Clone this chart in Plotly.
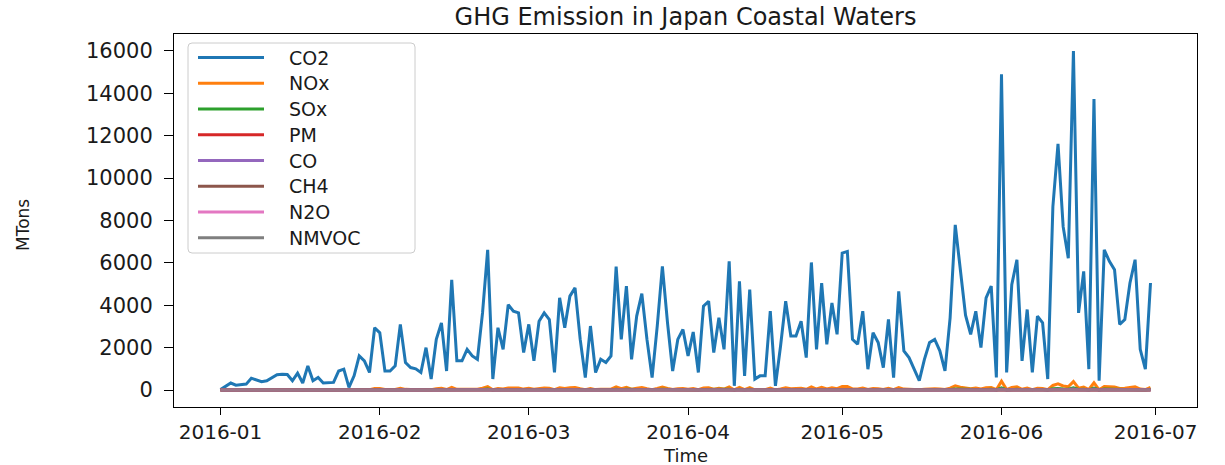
import pandas as pd
import plotly.graph_objects as go

# Daily emissions, 2016-01-01 .. 2016-06-30 (MTons)
start_date = "2016-01-01"
end_date = "2016-06-30"

co2 = [
    20, 170, 330, 230, 270, 280, 560, 480, 390, 440,
    580, 720, 750, 735, 440, 800, 330, 1140, 440, 590,
    330, 330, 360, 900, 985, 125, 670, 1610, 1380, 830,
    2940, 2700, 900, 900, 1140, 3100, 1300, 1060, 1000, 830,
    2000, 520, 2390, 3170, 900, 5200, 1380, 1380, 1920, 1610,
    1450, 3640, 6620, 520, 2940, 1920, 4030, 3720, 3640, 1770,
    3100, 1380, 3250, 3640, 3330, 830, 4350, 2940, 4430, 4820,
    2400, 590, 3020, 830, 1450, 1300, 1610, 5830, 2390, 4900,
    1450, 3490, 4550, 2390, 590, 3020, 5830, 3170, 900, 2390,
    2860, 1610, 2740, 830, 3960, 4190, 1770, 3410, 1920, 6070,
    200, 5130, 670, 4740, 520, 670, 670, 3720, 200, 2080,
    4190, 2550, 2550, 3250, 1530, 6020, 1920, 5040, 2160, 4110,
    2630, 6460, 6540, 2390, 2160, 3720, 985, 2700, 2240, 1060,
    3330, 590, 4660, 1850, 1530, 985, 440, 1450, 2240, 2390,
    1850, 900, 3410, 7790, 5520, 3530, 2630, 3720, 2000, 4350,
    4900, 590, 14900, 830, 4970, 6150, 1380, 3800, 830, 3490,
    3170, 520, 8650, 11620, 7710, 6220, 16000, 3640, 5600, 985,
    13730, 440, 6620, 6070, 5680, 3100, 3330, 5050, 6150, 1920,
    985, 5050,
]

nox = [
    1, 4, 8, 6, 7, 7, 14, 12, 10, 11,
    15, 18, 19, 18, 11, 20, 8, 28, 11, 15,
    8, 8, 9, 22, 25, 3, 17, 40, 35, 21,
    74, 68, 22, 22, 28, 78, 33, 27, 25, 21,
    50, 13, 60, 79, 22, 130, 35, 35, 48, 40,
    36, 91, 166, 13, 74, 48, 101, 93, 91, 44,
    78, 35, 81, 91, 83, 21, 109, 74, 111, 121,
    60, 15, 76, 21, 36, 33, 40, 146, 60, 123,
    36, 87, 114, 60, 15, 76, 146, 79, 22, 60,
    72, 40, 69, 21, 99, 105, 44, 85, 48, 152,
    5, 128, 17, 119, 13, 17, 17, 93, 5, 52,
    105, 64, 64, 81, 38, 151, 48, 126, 54, 103,
    66, 162, 164, 60, 54, 93, 25, 68, 56, 27,
    83, 15, 117, 46, 38, 25, 11, 36, 56, 60,
    46, 23, 85, 195, 138, 88, 66, 93, 50, 109,
    123, 15, 420, 21, 124, 154, 35, 95, 21, 87,
    79, 13, 216, 290, 193, 156, 400, 91, 140, 25,
    343, 11, 166, 152, 142, 78, 83, 126, 154, 48,
    25, 126,
]

sox = [
    0, 1, 2, 2, 2, 2, 4, 3, 3, 3,
    4, 5, 5, 5, 3, 5, 2, 8, 3, 4,
    2, 2, 2, 6, 7, 1, 4, 11, 9, 6,
    20, 18, 6, 6, 8, 21, 9, 7, 7, 6,
    13, 3, 16, 21, 6, 35, 9, 9, 13, 11,
    10, 24, 44, 3, 20, 13, 27, 25, 24, 12,
    21, 9, 22, 24, 22, 6, 29, 20, 30, 32,
    16, 4, 20, 6, 10, 9, 11, 39, 16, 33,
    10, 23, 30, 16, 4, 20, 39, 21, 6, 16,
    19, 11, 18, 6, 26, 28, 12, 23, 13, 40,
    1, 34, 4, 32, 3, 4, 4, 25, 1, 14,
    28, 17, 17, 22, 10, 40, 13, 34, 14, 27,
    18, 43, 44, 16, 14, 25, 7, 18, 15, 7,
    22, 4, 31, 12, 10, 7, 3, 10, 15, 16,
    12, 6, 23, 52, 37, 24, 18, 25, 13, 29,
    33, 4, 99, 6, 33, 41, 9, 25, 6, 23,
    21, 3, 58, 77, 51, 41, 106, 24, 37, 7,
    92, 3, 44, 40, 38, 21, 22, 34, 41, 13,
    7, 34,
]

pm = [
    0, 0, 0, 0, 0, 0, 1, 0, 0, 0,
    1, 1, 1, 1, 0, 1, 0, 1, 0, 1,
    0, 0, 0, 1, 1, 0, 1, 2, 1, 1,
    3, 3, 1, 1, 1, 3, 1, 1, 1, 1,
    2, 1, 2, 3, 1, 5, 1, 1, 2, 2,
    1, 4, 7, 1, 3, 2, 4, 4, 4, 2,
    3, 1, 3, 4, 3, 1, 4, 3, 4, 5,
    2, 1, 3, 1, 1, 1, 2, 6, 2, 5,
    1, 3, 5, 2, 1, 3, 6, 3, 1, 2,
    3, 2, 3, 1, 4, 4, 2, 3, 2, 6,
    0, 5, 1, 5, 1, 1, 1, 4, 0, 2,
    4, 3, 3, 3, 2, 6, 2, 5, 2, 4,
    3, 6, 7, 2, 2, 4, 1, 3, 2, 1,
    3, 1, 5, 2, 2, 1, 0, 1, 2, 2,
    2, 1, 3, 8, 6, 4, 3, 4, 2, 4,
    5, 1, 15, 1, 5, 6, 1, 4, 1, 3,
    3, 1, 9, 12, 8, 6, 16, 4, 6, 1,
    14, 0, 7, 6, 6, 3, 3, 5, 6, 2,
    1, 5,
]

co = [
    0, 1, 1, 1, 1, 1, 2, 2, 1, 1,
    2, 2, 3, 2, 1, 3, 1, 4, 1, 2,
    1, 1, 1, 3, 3, 0, 2, 5, 5, 3,
    10, 9, 3, 3, 4, 10, 4, 4, 3, 3,
    7, 2, 8, 11, 3, 17, 5, 5, 6, 5,
    5, 12, 22, 2, 10, 6, 13, 12, 12, 6,
    10, 5, 11, 12, 11, 3, 15, 10, 15, 16,
    8, 2, 10, 3, 5, 4, 5, 19, 8, 16,
    5, 12, 15, 8, 2, 10, 19, 11, 3, 8,
    10, 5, 9, 3, 13, 14, 6, 11, 6, 20,
    1, 17, 2, 16, 2, 2, 2, 12, 1, 7,
    14, 9, 9, 11, 5, 20, 6, 17, 7, 14,
    9, 22, 22, 8, 7, 12, 3, 9, 7, 4,
    11, 2, 16, 6, 5, 3, 1, 5, 7, 8,
    6, 3, 11, 26, 18, 12, 9, 12, 7, 15,
    16, 2, 50, 3, 17, 20, 5, 13, 3, 12,
    11, 2, 29, 39, 26, 21, 53, 12, 19, 3,
    46, 1, 22, 20, 19, 10, 11, 17, 20, 6,
    3, 17,
]

ch4 = [
    0, 0, 0, 0, 0, 0, 0, 0, 0, 0,
    0, 0, 0, 0, 0, 0, 0, 0, 0, 0,
    0, 0, 0, 0, 0, 0, 0, 0, 0, 0,
    1, 1, 0, 0, 0, 1, 0, 0, 0, 0,
    0, 0, 0, 1, 0, 1, 0, 0, 0, 0,
    0, 1, 1, 0, 1, 0, 1, 1, 1, 0,
    1, 0, 1, 1, 1, 0, 1, 1, 1, 1,
    0, 0, 1, 0, 0, 0, 0, 1, 0, 1,
    0, 1, 1, 0, 0, 1, 1, 1, 0, 0,
    1, 0, 1, 0, 1, 1, 0, 1, 0, 1,
    0, 1, 0, 1, 0, 0, 0, 1, 0, 0,
    1, 1, 1, 1, 0, 1, 0, 1, 0, 1,
    1, 1, 1, 0, 0, 1, 0, 1, 0, 0,
    1, 0, 1, 0, 0, 0, 0, 0, 0, 0,
    0, 0, 1, 2, 1, 1, 1, 1, 0, 1,
    1, 0, 3, 0, 1, 1, 0, 1, 0, 1,
    1, 0, 2, 2, 2, 1, 3, 1, 1, 0,
    3, 0, 1, 1, 1, 1, 1, 1, 1, 0,
    0, 1,
]

n2o = [
    0, 0, 0, 0, 0, 0, 0, 0, 0, 0,
    0, 0, 0, 0, 0, 0, 0, 0, 0, 0,
    0, 0, 0, 0, 0, 0, 0, 0, 0, 0,
    0, 0, 0, 0, 0, 0, 0, 0, 0, 0,
    0, 0, 0, 0, 0, 1, 0, 0, 0, 0,
    0, 0, 1, 0, 0, 0, 0, 0, 0, 0,
    0, 0, 0, 0, 0, 0, 0, 0, 0, 0,
    0, 0, 0, 0, 0, 0, 0, 1, 0, 0,
    0, 0, 0, 0, 0, 0, 1, 0, 0, 0,
    0, 0, 0, 0, 0, 0, 0, 0, 0, 1,
    0, 1, 0, 0, 0, 0, 0, 0, 0, 0,
    0, 0, 0, 0, 0, 1, 0, 1, 0, 0,
    0, 1, 1, 0, 0, 0, 0, 0, 0, 0,
    0, 0, 0, 0, 0, 0, 0, 0, 0, 0,
    0, 0, 0, 1, 1, 0, 0, 0, 0, 0,
    0, 0, 1, 0, 0, 1, 0, 0, 0, 0,
    0, 0, 1, 1, 1, 1, 2, 0, 1, 0,
    1, 0, 1, 1, 1, 0, 0, 0, 1, 0,
    0, 0,
]

nmvoc = [
    0, 0, 0, 0, 0, 0, 1, 1, 1, 1,
    1, 1, 1, 1, 1, 1, 0, 2, 1, 1,
    0, 0, 1, 1, 1, 0, 1, 2, 2, 1,
    4, 4, 1, 1, 2, 4, 2, 2, 1, 1,
    3, 1, 3, 5, 1, 7, 2, 2, 3, 2,
    2, 5, 9, 1, 4, 3, 6, 5, 5, 3,
    4, 2, 5, 5, 5, 1, 6, 4, 6, 7,
    3, 1, 4, 1, 2, 2, 2, 8, 3, 7,
    2, 5, 6, 3, 1, 4, 8, 5, 1, 3,
    4, 2, 4, 1, 6, 6, 3, 5, 3, 9,
    0, 7, 1, 7, 1, 1, 1, 5, 0, 3,
    6, 4, 4, 5, 2, 9, 3, 7, 3, 6,
    4, 9, 9, 3, 3, 5, 1, 4, 3, 2,
    5, 1, 7, 3, 2, 1, 1, 2, 3, 3,
    3, 1, 5, 11, 8, 5, 4, 5, 3, 6,
    7, 1, 21, 1, 7, 9, 2, 5, 1, 5,
    5, 1, 12, 17, 11, 9, 23, 5, 8, 1,
    20, 1, 9, 9, 8, 4, 5, 7, 9, 3,
    1, 7,
]

series_names = ["CO2", "NOx", "SOx", "PM", "CO", "CH4", "N2O", "NMVOC"]
series_values = [co2, nox, sox, pm, co, ch4, n2o, nmvoc]
series_colors = ["#1f77b4", "#ff7f0e", "#2ca02c", "#d62728",
                 "#9467bd", "#8c564b", "#e377c2", "#7f7f7f"]
# the near-zero series overlap on the baseline; let them blend a little
series_opacity = [1, 1, 1, 1, 1, 1, 0.6, 0.55]

month_ticks = ["2016-01-01", "2016-02-01", "2016-03-01", "2016-04-01",
               "2016-05-01", "2016-06-01", "2016-07-01"]
month_labels = ["2016-01", "2016-02", "2016-03", "2016-04",
                "2016-05", "2016-06", "2016-07"]
y_ticks = [0, 2000, 4000, 6000, 8000, 10000, 12000, 14000, 16000]

dates = pd.date_range(start_date, end_date, freq="D")

# figure geometry (pixels)
W, H = 1225, 465
L, R, T, B = 174, 1197, 34, 407
FONT = "DejaVu Sans"
TXT = "#1a1a1a"


def fx(px):
    return (px - L) / (R - L)


def fy(py):
    return (B - py) / (B - T)


fig = go.Figure()
for name, vals, col, op in zip(series_names, series_values, series_colors,
                               series_opacity):
    fig.add_trace(go.Scatter(
        x=dates, y=vals, mode="lines", name=name, opacity=op,
        line=dict(color=col, width=3), showlegend=False,
    ))

# x range with 5% padding on each side of the data span
span = dates[-1] - dates[0]
pad = span * 0.05
x_range = [dates[0] - pad, dates[-1] + pad]

axis_common = dict(
    showline=True, linecolor="black", linewidth=1, mirror=True,
    ticks="outside", tickwidth=1, tickcolor="black",
    showgrid=False, zeroline=False,
)

fig.update_layout(
    width=W, height=H,
    margin=dict(l=L, r=W - R, t=T, b=H - B, pad=0),
    paper_bgcolor="white", plot_bgcolor="white",
    font=dict(family=FONT, color=TXT),
    title=dict(text="GHG Emission in Japan Coastal Waters",
               x=0.5, xref="paper", xanchor="center",
               y=(H - 17) / H, yref="container", yanchor="middle",
               font=dict(family=FONT, size=24, color=TXT)),
    xaxis=dict(range=x_range, tickvals=month_ticks, ticktext=month_labels,
               ticklen=7, tickfont=dict(family=FONT, size=20, color=TXT),
               **axis_common),
    yaxis=dict(range=[-800, 16800], tickvals=y_ticks,
               ticktext=[str(v) for v in y_ticks], ticklen=9,
               ticklabelstandoff=7,
               tickfont=dict(family=FONT, size=21, color=TXT),
               **axis_common),
)

# axis titles
fig.add_annotation(text="Time", x=0.5, y=fy(455), xref="paper", yref="paper",
                   xanchor="center", yanchor="middle", showarrow=False,
                   font=dict(family=FONT, size=18, color=TXT))
fig.add_annotation(text="MTons", x=fx(23), y=fy(225), xref="paper", yref="paper",
                   xanchor="center", yanchor="middle", showarrow=False,
                   textangle=-90, font=dict(family=FONT, size=17, color=TXT))

# legend box (rounded frame)
bx0, bx1, by0, by1 = 188, 415, 43, 253
r = 4
rx, ry = r / (R - L), r / (B - T)
X0, X1, Y0, Y1 = fx(bx0), fx(bx1), fy(by1), fy(by0)
path = (f"M {X0 + rx},{Y1} L {X1 - rx},{Y1} Q {X1},{Y1} {X1},{Y1 - ry} "
        f"L {X1},{Y0 + ry} Q {X1},{Y0} {X1 - rx},{Y0} "
        f"L {X0 + rx},{Y0} Q {X0},{Y0} {X0},{Y0 + ry} "
        f"L {X0},{Y1 - ry} Q {X0},{Y1} {X0 + rx},{Y1} Z")
fig.add_shape(type="path", path=path, xref="paper", yref="paper",
              fillcolor="rgba(255,255,255,0.8)",
              line=dict(color="#cccccc", width=1))

row0, row_step = 57.5, 25.75
for i, (name, col) in enumerate(zip(series_names, series_colors)):
    yy = fy(row0 + i * row_step)
    fig.add_shape(type="line", xref="paper", yref="paper",
                  x0=fx(198), x1=fx(264), y0=yy, y1=yy,
                  line=dict(color=col, width=3))
    fig.add_annotation(text=name, x=fx(287), y=yy, xref="paper", yref="paper",
                       xanchor="left", yanchor="middle", showarrow=False,
                       font=dict(family=FONT, size=19, color=TXT))

fig.write_html("out.html")
